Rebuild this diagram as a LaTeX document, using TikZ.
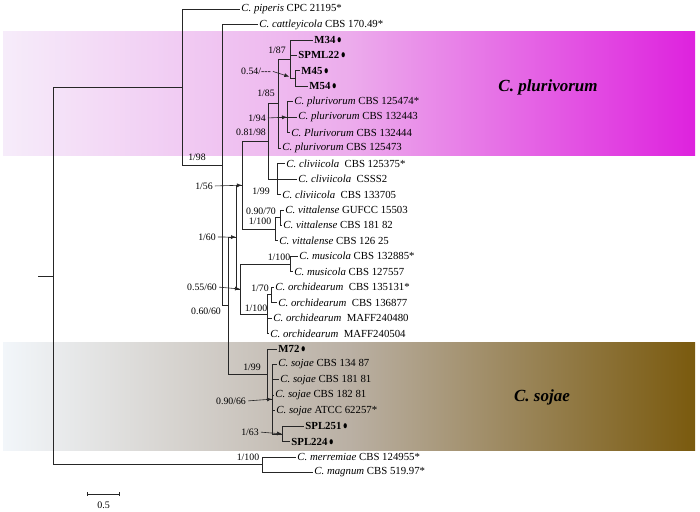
\documentclass[tikz,border=0pt]{standalone}
\usepackage{fontspec}
\setmainfont{Liberation Serif}
\usetikzlibrary{arrows.meta}
\definecolor{plurL}{RGB}{246,236,250}
\definecolor{plurM}{RGB}{236,172,236}
\definecolor{plurR}{RGB}{222,34,222}
\definecolor{sojL}{RGB}{242,246,250}
\definecolor{sojM}{RGB}{186,176,164}
\definecolor{sojR}{RGB}{122,90,14}
\newcommand{\isodot}{\,\scalebox{0.8}[1.2]{$\bullet$}}

\begin{document}
\begin{tikzpicture}[x=1pt,y=-1pt,
  br/.style={line width=0.7pt,black!85},
  taxon/.style={anchor=west,inner sep=1.2pt,font=\fontsize{10.8}{12}\selectfont},
  bval/.style={inner sep=0.5pt,font=\fontsize{9.8}{11}\selectfont},
  pointer/.style={line width=0.6pt,black!85,-{Latex[length=5pt,width=4pt]},shorten <=1.5pt},
  clade/.style={font=\fontsize{17}{20}\selectfont\bfseries\itshape}]
  \useasboundingbox (0,0) rectangle (700,511);
  \shade[left color=plurL,right color=plurR,middle color=plurM] (3,32) rectangle (695,155);
  \shade[left color=sojL,right color=sojR,middle color=sojM] (3,342) rectangle (695,450);

  \coordinate (stub) at (38,275.9);
  \coordinate (nR) at (53,275.9);
  \coordinate (nA) at (182,87);
  \coordinate (nB) at (222,165);
  \coordinate (nC) at (228,305.6);
  \coordinate (nD) at (236,237.1);
  \coordinate (nE) at (242,185.2);
  \coordinate (nG) at (268,141.3);
  \coordinate (nP) at (278,103.6);
  \coordinate (nMc) at (290,59.2);
  \coordinate (nMM) at (295,78.5);
  \coordinate (nQ) at (287,117.15);
  \coordinate (nK) at (277,178.95);
  \coordinate (nV) at (275,229.2);
  \coordinate (nV2) at (280,217.6);
  \coordinate (nF) at (240,289.0);
  \coordinate (nMu) at (290,263.9);
  \coordinate (nO) at (267,314.1);
  \coordinate (nO2) at (271,294.8);
  \coordinate (nS) at (267,374);
  \coordinate (nT) at (272,399.1);
  \coordinate (nSP) at (282,433.9);
  \coordinate (nN) at (262,464.8);

  \node[taxon] (t1) at (240,9) {\textit{C. piperis} CPC 21195*};
  \node[taxon] (t2) at (258,24.45) {\textit{C. cattleyicola} CBS 170.49*};
  \node[taxon] (t3) at (313,39.9) {\textbf{M34}\isodot};
  \node[taxon] (t4) at (297,55.35) {\textbf{SPML22}\isodot};
  \node[taxon] (t5) at (300,70.8) {\textbf{M45}\isodot};
  \node[taxon] (t6) at (308,86.25) {\textbf{M54}\isodot};
  \node[taxon] (t7) at (293,101.7) {\textit{C. plurivorum} CBS 125474*};
  \node[taxon] (t8) at (297,117.15) {\textit{C. plurivorum} CBS 132443};
  \node[taxon] (t9) at (290,132.6) {\textit{C. Plurivorum} CBS 132444};
  \node[taxon] (t10) at (281,148.05) {\textit{C. plurivorum} CBS 125473};
  \node[taxon] (t11) at (285,163.5) {\textit{C. cliviicola}\ \ CBS 125375*};
  \node[taxon] (t12) at (297,178.95) {\textit{C. cliviicola}\ \ CSSS2};
  \node[taxon] (t13) at (281,194.4) {\textit{C. cliviicola}\ \ CBS 133705};
  \node[taxon] (t14) at (284,209.85) {\textit{C. vittalense} GUFCC 15503};
  \node[taxon] (t15) at (282,225.3) {\textit{C. vittalense} CBS 181 82};
  \node[taxon] (t16) at (278,240.75) {\textit{C. vittalense} CBS 126 25};
  \node[taxon] (t17) at (298,256.2) {\textit{C. musicola} CBS 132885*};
  \node[taxon] (t18) at (293,271.65) {\textit{C. musicola} CBS 127557};
  \node[taxon] (t19) at (274,287.1) {\textit{C. orchidearum}\ \ CBS 135131*};
  \node[taxon] (t20) at (277,302.55) {\textit{C. orchidearum}\ \ CBS 136877};
  \node[taxon] (t21) at (272,318) {\textit{C. orchidearum}\ \ MAFF240480};
  \node[taxon] (t22) at (269,333.45) {\textit{C. orchidearum}\ \ MAFF240504};
  \node[taxon] (t23) at (277,348.9) {\textbf{M72}\isodot};
  \node[taxon] (t24) at (277,364.35) {\textit{C. sojae} CBS 134 87};
  \node[taxon] (t25) at (279,379.8) {\textit{C. sojae} CBS 181 81};
  \node[taxon] (t26) at (274,395.25) {\textit{C. sojae} CBS 182 81};
  \node[taxon] (t27) at (275,410.7) {\textit{C. sojae} ATCC 62257*};
  \node[taxon] (t28) at (304,426.15) {\textbf{SPL251}\isodot};
  \node[taxon] (t29) at (290,441.6) {\textbf{SPL224}\isodot};
  \node[taxon] (t30) at (296,457.05) {\textit{C. merremiae} CBS 124955*};
  \node[taxon] (t31) at (313,472.5) {\textit{C. magnum} CBS 519.97*};

  \draw[br] (stub) -- (nR) (nR) |- (nA) (nR) |- (nN);
  \draw[br] (nA) |- (t1.west) (nA) |- (nB);
  \draw[br] (nB) |- (t2.west) (nB) |- (nC);
  \draw[br] (nC) |- (nD) (nC) |- (nS);
  \draw[br] (nD) |- (nE) (nD) |- (nF);
  \draw[br] (nE) |- (nG) (nE) |- (nV);
  \draw[br] (nG) |- (nP) (nG) |- (nK);
  \draw[br] (nP) |- (nMc) (nP) |- (nQ) (nP) |- (t10.west);
  \draw[br] (nMc) |- (t3.west) (nMc) |- (t4.west) (nMc) |- (nMM);
  \draw[br] (nMM) |- (t5.west) (nMM) |- (t6.west);
  \draw[br] (nQ) |- (t7.west) (nQ) |- (t8.west) (nQ) |- (t9.west);
  \draw[br] (nK) |- (t11.west) (nK) |- (t12.west) (nK) |- (t13.west);
  \draw[br] (nV) |- (nV2) (nV) |- (t16.west);
  \draw[br] (nV2) |- (t14.west) (nV2) |- (t15.west);
  \draw[br] (nF) |- (nMu) (nF) |- (nO);
  \draw[br] (nMu) |- (t17.west) (nMu) |- (t18.west);
  \draw[br] (nO) |- (nO2) (nO) |- (t21.west) (nO) |- (t22.west);
  \draw[br] (nO2) |- (t19.west) (nO2) |- (t20.west);
  \draw[br] (nS) |- (t23.west) (nS) |- (nT);
  \draw[br] (nT) |- (t24.west) (nT) |- (t25.west) (nT) |- (t26.west) (nT) |- (t27.west) (nT) |- (nSP);
  \draw[br] (nSP) |- (t28.west) (nSP) |- (t29.west);
  \draw[br] (nN) |- (t30.west) (nN) |- (t31.west);

  \node[bval] (s187) at (277,50) {1/87};
  \node[bval] (s054) at (256,71) {0.54/{-}{-}{-}};
  \node[bval] (s185) at (266,93) {1/85};
  \node[bval] (s194) at (257,118) {1/94};
  \node[bval] (s081) at (251,132) {0.81/98};
  \node[bval] (s198) at (197,157) {1/98};
  \node[bval] (s156) at (204,186) {1/56};
  \node[bval] (s199a) at (261,191) {1/99};
  \node[bval] (s090a) at (261,211) {0.90/70};
  \node[bval] (s1100a) at (260,221) {1/100};
  \node[bval] (s160) at (207,237) {1/60};
  \node[bval] (s1100b) at (279,257) {1/100};
  \node[bval] (s055) at (202,287) {0.55/60};
  \node[bval] (s170) at (260,288) {1/70};
  \node[bval] (s1100c) at (256,308) {1/100};
  \node[bval] (s060) at (206,311) {0.60/60};
  \node[bval] (s199b) at (252,367) {1/99};
  \node[bval] (s090b) at (231,401) {0.90/66};
  \node[bval] (s163) at (250,432) {1/63};
  \node[bval] (s1100d) at (248,457) {1/100};

  \draw[pointer,shorten >=6pt] (s054.east) -- (nMM);
  \draw[pointer] (s194.east) -- (nQ);
  \draw[pointer] (s156.east) -- (nE);
  \draw[pointer] (s160.east) -- (nD);
  \draw[pointer] (s055.east) -- (nF);
  \draw[pointer] (s090b.east) -- (nT);
  \draw[pointer] (s163.east) -- (nSP);

  \node[clade] (cPlur) at (548,87) {C. plurivorum};
  \node[clade] (cSoj) at (542,397) {C. sojae};

  \coordinate (sbL) at (87,494);
  \coordinate (sbR) at (120,494);
  \draw[line width=0.7pt,black!85,{Bar[width=4pt]}-{Bar[width=4pt]}] (sbL) -- (sbR);
  \node[bval,font=\fontsize{10}{12}\selectfont] (sbLab) at (103.5,505) {0.5};
\end{tikzpicture}
\end{document}
